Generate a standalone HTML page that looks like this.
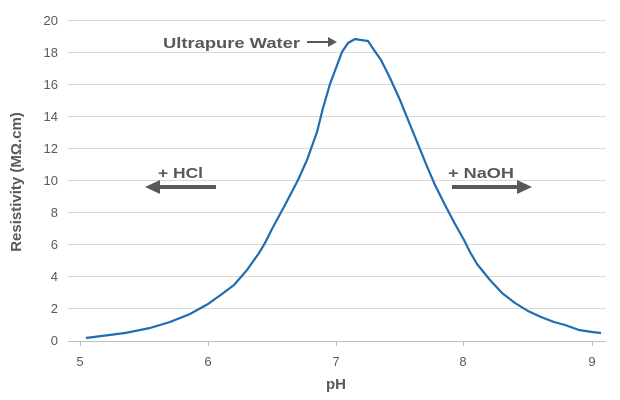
<!DOCTYPE html>
<html><head><meta charset="utf-8"><style>
html,body{margin:0;padding:0;background:#fff;}
svg{display:block;font-family:"Liberation Sans",Verdana,sans-serif;}
</style></head><body>
<svg width="620" height="400" viewBox="0 0 620 400">
<g stroke="#d9d9d9" stroke-width="1">
<line x1="68" x2="606" y1="20.5" y2="20.5"/>
<line x1="68" x2="606" y1="52.5" y2="52.5"/>
<line x1="68" x2="606" y1="84.5" y2="84.5"/>
<line x1="68" x2="606" y1="116.5" y2="116.5"/>
<line x1="68" x2="606" y1="148.5" y2="148.5"/>
<line x1="68" x2="606" y1="180.5" y2="180.5"/>
<line x1="68" x2="606" y1="212.5" y2="212.5"/>
<line x1="68" x2="606" y1="244.5" y2="244.5"/>
<line x1="68" x2="606" y1="276.5" y2="276.5"/>
<line x1="68" x2="606" y1="308.5" y2="308.5"/>
</g>
<line x1="68" x2="606" y1="341.5" y2="341.5" stroke="#bfbfbf"/>
<g stroke="#bfbfbf"><line x1="80.5" x2="80.5" y1="341" y2="346"/><line x1="208.5" x2="208.5" y1="341" y2="346"/><line x1="336.5" x2="336.5" y1="341" y2="346"/><line x1="463.5" x2="463.5" y1="341" y2="346"/><line x1="592.5" x2="592.5" y1="341" y2="346"/></g>
<g fill="#595959" font-size="13" text-anchor="end">
<text x="58" y="25">20</text><text x="58" y="57">18</text><text x="58" y="89">16</text><text x="58" y="121">14</text><text x="58" y="153">12</text><text x="58" y="185">10</text><text x="58" y="217">8</text><text x="58" y="249">6</text><text x="58" y="281">4</text><text x="58" y="313">2</text><text x="58" y="345">0</text>
</g>
<g fill="#595959" font-size="13" text-anchor="middle">
<text x="80" y="366">5</text><text x="208" y="366">6</text><text x="336" y="366">7</text><text x="463" y="366">8</text><text x="592" y="366">9</text>
</g>
<text x="336" y="389" fill="#595959" font-size="15" font-weight="bold" text-anchor="middle">pH</text>
<text transform="translate(21,182) rotate(-90)" fill="#595959" font-size="15" font-weight="bold" text-anchor="middle">Resistivity (MΩ.cm)</text>
<polyline fill="none" stroke="#1f6db0" stroke-width="2.2" stroke-linejoin="round" points="86,338 125,333 150,328 170,322 190,314 208,304 222,294 234,285 247,270 259,253 265,243 272,229 285,205 298,180 307,160 317,132 323,108 330,84 336,68 342,52 348,43 355,39 361,40 368,41 374,50 381,60 390,78 400,100 413,132 426,164 435,185 445,205 455,224 464,240 470,252 477,264 490,280 502,293 515,303 528,311 541,317 554,322 565,325 579,330 592,332 601,333"/>
<text x="163" y="48" fill="#595959" font-size="15" font-weight="bold" textLength="137" lengthAdjust="spacingAndGlyphs">Ultrapure Water</text>
<g fill="#595959"><line x1="307" y1="42" x2="330" y2="42" stroke="#595959" stroke-width="2"/><polygon points="337,42 328,37 328,47"/></g>
<text x="158" y="178" fill="#595959" font-size="15" font-weight="bold" textLength="45" lengthAdjust="spacingAndGlyphs">+ HCl</text>
<rect x="158" y="185" width="58" height="4" fill="#595959"/><polygon points="145,187 160,180 160,194" fill="#595959"/>
<text x="448" y="178" fill="#595959" font-size="15" font-weight="bold" textLength="66" lengthAdjust="spacingAndGlyphs">+ NaOH</text>
<rect x="452" y="185" width="66" height="4" fill="#595959"/><polygon points="532,187 517,180 517,194" fill="#595959"/>
</svg>
</body></html>
